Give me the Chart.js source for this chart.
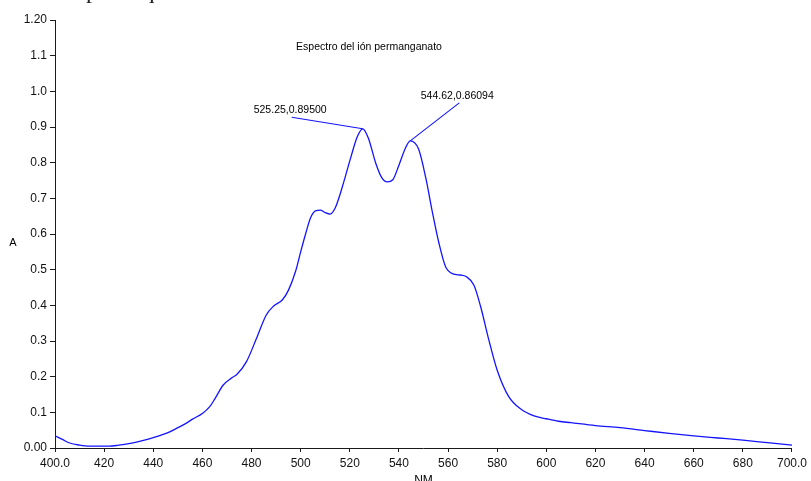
<!DOCTYPE html>
<html>
<head>
<meta charset="utf-8">
<script src="https://cdn.jsdelivr.net/npm/chart.js@4"></script>
<style>
  html, body { margin: 0; padding: 0; background: #fff; overflow: hidden; }
  #wrap { width: 811px; height: 481px; position: relative; }
</style>
</head>
<body>
<div id="wrap"><canvas id="c" width="811" height="481"></canvas></div>
<script>
// Absorption spectrum of the permanganate ion (wavelength in nm, absorbance A)
const wavelengths = [
  400, 403, 406, 410, 414, 418, 422, 426, 430, 434, 438, 442, 446, 450, 454,
  456, 460, 463, 465, 468.4, 472, 474, 478, 482, 486, 489, 492.5, 495, 498,
  500, 502, 504, 506, 508, 510, 512, 514, 517, 520.5, 523, 525.25, 527.5,
  530.5, 533, 535.3, 537.5, 540, 542.8, 544.62, 548, 551, 553.6, 556.3, 559,
  562, 565, 567.5, 570.5, 573.2, 576.6, 580, 584.7, 590, 595, 600, 605, 610,
  620, 630, 640, 650, 660, 670, 680, 690, 700
];
const absorbance = [
  0.034, 0.024, 0.014, 0.008, 0.005, 0.005, 0.005, 0.008, 0.012, 0.018, 0.025,
  0.033, 0.043, 0.057, 0.072, 0.081, 0.097, 0.116, 0.137, 0.176, 0.197, 0.206,
  0.243, 0.307, 0.373, 0.398, 0.415, 0.442, 0.497, 0.550, 0.600, 0.645, 0.665,
  0.667, 0.660, 0.656, 0.672, 0.733, 0.817, 0.872, 0.895, 0.870, 0.800, 0.758,
  0.746, 0.752, 0.793, 0.843, 0.86094, 0.838, 0.755, 0.662, 0.574, 0.508, 0.488,
  0.485, 0.480, 0.457, 0.398, 0.303, 0.218, 0.144, 0.107, 0.090, 0.082, 0.075,
  0.071, 0.063, 0.057, 0.049, 0.041, 0.034, 0.028, 0.022, 0.015, 0.008
];
// Marked maxima
const peakWavelengths = [525.25, 544.62];
const peakAbsorbances = [0.89500, 0.86094];

const chartTitle = 'Espectro del ión permanganato';
const xAxisTitle = 'NM';
const yAxisTitle = 'A';
const pageFragment = 'de la especie química';

const FONT = '"Liberation Sans", Arial, sans-serif';
const AXIS_COLOR = '#1a1a1a';
const LINE_COLOR = '#1414ff';

const points = wavelengths.map((w, i) => ({ x: w, y: absorbance[i] }));

// Text and peak callouts drawn on top of the plot
const overlay = {
  id: 'overlay',
  afterDraw(chart) {
    const { ctx, scales: { x, y }, chartArea } = chart;
    ctx.save();

    // remnant of the page text above the figure
    ctx.fillStyle = '#222';
    ctx.font = '24px "Liberation Serif", "Times New Roman", serif';
    ctx.textBaseline = 'alphabetic';
    ctx.textAlign = 'left';
    ctx.fillText(pageFragment, 14, -2);

    ctx.fillStyle = '#000';
    ctx.font = '10.5px ' + FONT;
    ctx.textAlign = 'center';
    ctx.textBaseline = 'middle';
    ctx.fillText(chartTitle, 369, 47);

    // axis titles
    ctx.font = '11px ' + FONT;
    ctx.fillText(yAxisTitle, 13, (chartArea.top + chartArea.bottom) / 2 + 9);
    ctx.font = '12px ' + FONT;
    ctx.fillText(xAxisTitle, (chartArea.left + chartArea.right) / 2, 481);

    // peak callouts: leader line from the maximum to its label
    const callouts = [
      { dx: -71, dy: -11.5, tx: -109, ty: -18.5 },
      { dx: 49, dy: -38, tx: 10.5, ty: -45 }
    ];
    ctx.strokeStyle = LINE_COLOR;
    ctx.lineWidth = 1.1;
    ctx.font = '10.5px ' + FONT;
    ctx.textAlign = 'left';
    peakWavelengths.forEach((w, i) => {
      const px = x.getPixelForValue(w);
      const py = y.getPixelForValue(peakAbsorbances[i]);
      const c = callouts[i];
      ctx.beginPath();
      ctx.moveTo(px, py);
      ctx.lineTo(px + c.dx, py + c.dy);
      ctx.stroke();
      ctx.fillStyle = '#000';
      ctx.fillText(w.toFixed(2) + ',' + peakAbsorbances[i].toFixed(5), px + c.tx, py + c.ty);
    });
    ctx.restore();
  }
};

new Chart(document.getElementById('c'), {
  type: 'line',
  data: {
    datasets: [{
      data: points,
      borderColor: LINE_COLOR,
      borderWidth: 1.3,
      pointRadius: 0,
      fill: false,
      tension: 0.4,
      cubicInterpolationMode: 'monotone'
    }]
  },
  options: {
    responsive: false,
    animation: false,
    devicePixelRatio: 1,
    layout: { padding: { top: 20, right: 17, left: 0, bottom: 0 } },
    plugins: { legend: { display: false }, tooltip: { enabled: false }, title: { display: false } },
    scales: {
      x: {
        type: 'linear',
        min: 400,
        max: 700,
        afterFit(s) { s.height = 33; },
        ticks: {
          stepSize: 20,
          autoSkip: false,
          maxRotation: 0,
          padding: 4,
          color: '#111',
          font: { family: FONT, size: 12 },
          callback: v => (v === 400 || v === 700) ? v.toFixed(1) : String(v)
        },
        grid: { drawOnChartArea: false, drawTicks: true, tickLength: 4, color: AXIS_COLOR },
        border: { display: true, color: AXIS_COLOR, width: 1 }
      },
      y: {
        min: 0,
        max: 1.2,
        afterFit(s) { s.width = 55; },
        ticks: {
          stepSize: 0.1,
          autoSkip: false,
          padding: 3,
          color: '#111',
          font: { family: FONT, size: 12 },
          callback: v => (Math.abs(v) < 1e-9 || Math.abs(v - 1.2) < 1e-9) ? v.toFixed(2) : v.toFixed(1)
        },
        grid: { drawOnChartArea: false, drawTicks: true, tickLength: 5, color: AXIS_COLOR },
        border: { display: true, color: AXIS_COLOR, width: 1 }
      }
    }
  },
  plugins: [overlay]
});
</script>
</body>
</html>
